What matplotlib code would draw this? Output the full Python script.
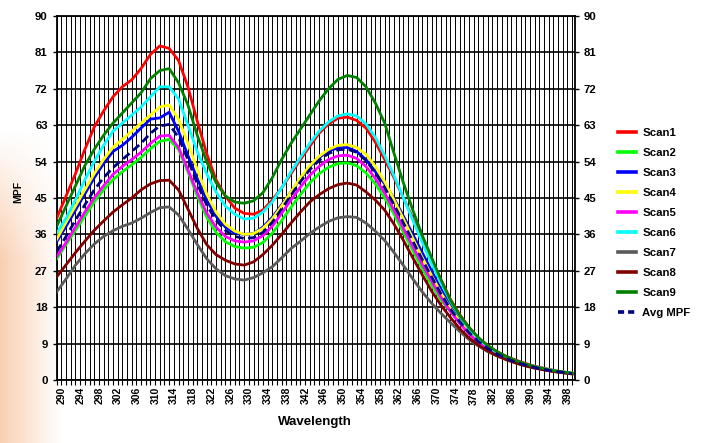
import numpy as np
import matplotlib
matplotlib.use("Agg")
import matplotlib.pyplot as plt
import matplotlib.transforms as mtransforms
from matplotlib.lines import Line2D

# Wavelength grid (nm), sampled every 2 nm
wavelength = list(range(290, 401, 2))

scan1 = [40.0, 45.5, 51.0, 57.0, 62.5, 66.5, 70.0, 72.5, 74.2, 77.0, 80.5, 82.6, 82.0, 79.0,
         72.5, 64.0, 56.0, 49.5, 45.5, 42.5, 41.2, 41.0, 42.0, 44.5, 47.5, 51.0, 54.5, 57.8,
         61.0, 63.3, 64.7, 65.0, 64.2, 62.3, 58.8, 54.5, 50.0, 45.0, 40.0, 34.8, 29.8, 24.8,
         20.0, 16.2, 13.0, 10.3, 8.5, 7.0, 5.8, 4.9, 4.1, 3.4, 2.9, 2.4, 2.0, 1.7]
scan2 = [30.0, 33.5, 37.0, 40.5, 44.0, 47.0, 49.5, 51.5, 53.2, 55.0, 57.2, 59.0, 59.5, 57.0,
         51.5, 45.5, 40.3, 36.5, 34.2, 33.0, 32.6, 32.8, 34.0, 36.3, 39.4, 42.7, 45.8, 48.7,
         51.0, 52.6, 53.5, 53.7, 53.0, 51.2, 48.5, 45.0, 41.0, 36.5, 32.0, 27.5, 23.5, 19.8,
         17.0, 14.2, 11.8, 9.7, 8.0, 6.6, 5.5, 4.6, 3.8, 3.2, 2.7, 2.3, 1.9, 1.6]
scan3 = [34.2, 38.0, 42.0, 46.0, 50.0, 53.5, 56.5, 58.0, 60.0, 62.3, 64.5, 64.8, 66.2, 61.5,
         55.5, 49.8, 44.5, 40.5, 37.8, 36.4, 36.0, 36.2, 37.8, 40.2, 43.3, 46.5, 49.8, 52.8,
         55.0, 56.6, 57.4, 57.5, 56.5, 54.5, 51.5, 48.5, 44.8, 40.5, 36.0, 31.5, 27.0, 22.5,
         18.8, 15.2, 12.3, 10.0, 8.2, 6.7, 5.5, 4.6, 3.8, 3.2, 2.7, 2.3, 1.9, 1.6]
scan4 = [34.8, 39.0, 43.0, 47.0, 51.0, 54.5, 57.5, 59.5, 61.5, 63.5, 65.5, 67.5, 68.0, 64.5,
         58.5, 52.0, 46.0, 41.5, 38.5, 36.8, 36.0, 36.2, 37.5, 39.8, 43.0, 46.5, 50.0, 53.0,
         55.3, 57.0, 58.0, 58.2, 57.5, 55.8, 52.8, 49.0, 44.5, 39.8, 35.0, 30.3, 25.8, 21.5,
         17.8, 14.5, 11.8, 9.6, 7.9, 6.5, 5.4, 4.5, 3.8, 3.2, 2.7, 2.3, 2.0, 1.7]
scan5 = [30.5, 34.0, 37.8, 41.5, 45.0, 48.0, 50.8, 52.8, 54.5, 56.3, 58.5, 60.3, 60.5, 57.5,
         52.0, 46.3, 41.3, 37.8, 35.5, 34.4, 34.1, 34.4, 35.7, 38.0, 41.2, 44.5, 47.7, 50.6,
         52.8, 54.5, 55.4, 55.6, 54.8, 52.8, 49.8, 46.2, 42.0, 37.5, 33.0, 28.6, 24.5, 20.5,
         17.0, 14.0, 11.4, 9.3, 7.6, 6.3, 5.2, 4.3, 3.6, 3.0, 2.6, 2.2, 1.9, 1.6]
scan6 = [36.3, 40.0, 44.5, 49.5, 54.0, 58.0, 61.5, 63.5, 65.5, 67.5, 70.0, 72.5, 72.5, 69.5,
         63.0, 56.5, 51.0, 46.5, 43.0, 41.0, 39.8, 40.0, 41.5, 44.0, 47.5, 51.5, 55.0, 58.5,
         61.5, 63.8, 65.3, 65.8, 65.3, 63.3, 60.0, 55.5, 50.5, 45.0, 39.5, 34.0, 28.8, 24.0,
         19.5, 15.8, 12.7, 10.2, 8.3, 6.8, 5.6, 4.7, 3.9, 3.3, 2.8, 2.3, 2.0, 1.7]
scan7 = [21.8, 25.0, 28.4, 31.2, 33.6, 35.5, 36.9, 38.0, 38.8, 40.0, 41.4, 42.6, 42.8, 40.8,
         37.3, 33.5, 30.0, 27.5, 25.8, 25.0, 24.7, 25.3, 26.5, 28.0, 30.2, 32.5, 34.3, 36.2,
         37.8, 39.2, 40.1, 40.4, 40.2, 38.8, 36.8, 34.5, 31.5, 28.3, 25.0, 21.8, 19.0, 16.5,
         14.2, 12.0, 10.0, 8.4, 7.0, 5.9, 5.0, 4.2, 3.5, 2.9, 2.5, 2.1, 1.8, 1.5]
scan8 = [25.5, 28.5, 31.5, 34.3, 37.0, 39.3, 41.5, 43.3, 45.0, 47.0, 48.5, 49.3, 49.4, 47.0,
         42.3, 37.5, 33.5, 31.0, 29.6, 28.7, 28.4, 29.2, 31.0, 33.3, 36.0, 38.8, 41.5, 44.0,
         45.8, 47.3, 48.3, 48.7, 48.2, 46.5, 44.5, 42.0, 38.5, 34.5, 30.2, 26.0, 22.0, 18.5,
         15.5, 12.7, 10.4, 8.6, 7.2, 6.0, 5.0, 4.2, 3.5, 3.0, 2.5, 2.1, 1.8, 1.5]
scan9 = [38.0, 43.0, 48.0, 53.0, 57.0, 60.5, 63.5, 66.0, 68.5, 71.0, 74.5, 76.5, 77.0, 73.5,
         68.0, 60.5, 54.0, 48.8, 45.5, 44.0, 43.7, 44.3, 46.3, 50.0, 54.5, 58.5, 62.0, 65.5,
         69.0, 72.0, 74.3, 75.3, 74.8, 72.5, 68.5, 63.5, 56.0, 48.7, 42.0, 35.8, 30.3, 24.8,
         19.8, 16.0, 13.0, 10.5, 8.5, 7.0, 5.8, 4.8, 4.0, 3.3, 2.8, 2.3, 2.0, 1.7]
avg_mpf = [31.7, 35.5, 39.5, 43.3, 47.0, 50.0, 52.5, 54.5, 56.5, 58.5, 61.0, 62.8, 63.2, 60.0,
           54.5, 48.5, 43.3, 39.5, 37.0, 35.5, 35.0, 35.2, 36.5, 39.0, 42.3, 45.7, 49.0, 52.0,
           54.3, 56.0, 56.9, 57.1, 56.3, 54.3, 51.2, 47.5, 43.3, 38.8, 34.3, 29.8, 25.5, 21.3,
           17.6, 14.4, 11.7, 9.5, 7.8, 6.4, 5.3, 4.4, 3.7, 3.1, 2.6, 2.2, 1.9, 1.6]

series_names = ["Scan1", "Scan2", "Scan3", "Scan4", "Scan5", "Scan6", "Scan7", "Scan8",
                "Scan9", "Avg MPF"]
series_values = [scan1, scan2, scan3, scan4, scan5, scan6, scan7, scan8, scan9, avg_mpf]
series_colors = ["#FF0000", "#00FF00", "#0000FF", "#FFFF00", "#FF00FF", "#00FFFF",
                 "#5A5A5A", "#800000", "#008000", "#000080"]

x_tick_values = list(range(290, 399, 4))
y_tick_values = [0, 9, 18, 27, 36, 45, 54, 63, 72, 81, 90]

FONT = "Liberation Sans"
W, H = 701, 443

fig = plt.figure(figsize=(W / 100, H / 100), dpi=100)
fig.patch.set_facecolor("white")

# soft peach backdrop at the left edge of the page
bg = fig.add_axes([0, 0, 1, 1], zorder=-5)
yy, xx = np.mgrid[0:H, 0:W]
fade_x = np.clip(1.0 - xx / 62.0, 0, 1) ** 1.1
fade_y = np.clip((yy - 130) / 130.0, 0, 1)
alpha = 0.5 * fade_x * fade_y
rgba = np.zeros((H, W, 4))
rgba[..., 0] = 0.96
rgba[..., 1] = 0.62
rgba[..., 2] = 0.38
rgba[..., 3] = alpha
bg.imshow(rgba, aspect="auto", interpolation="bilinear")
bg.axis("off")

left, right, top, bottom = 56.7, 574.5, 16.0, 380.0
ax = fig.add_axes([left / W, 1 - bottom / H, (right - left) / W, (bottom - top) / H])
ax.set_facecolor("white")

for name, vals, col in zip(series_names, series_values, series_colors):
    if name == "Avg MPF":
        ax.plot(wavelength, vals, color=col, lw=2.0, linestyle=(0, (3.0, 1.6)),
                label=name, zorder=4, solid_capstyle="butt")
    else:
        ax.plot(wavelength, vals, color=col, lw=2.0, label=name, zorder=3)

ax.set_xlim(290, 400.5)
ax.set_ylim(0, 90)

ax.set_xticks(x_tick_values)
ax.set_xticks(np.arange(290, 401), minor=True)
ax.set_xticklabels([str(v) for v in x_tick_values], rotation=90,
                   fontfamily=FONT, fontweight="bold", fontsize=7.5)
ax.set_yticks(y_tick_values)
ax.set_yticklabels([str(v) for v in y_tick_values], fontfamily=FONT,
                   fontweight="bold", fontsize=8.2)

ax.tick_params(axis="x", which="both", direction="out", length=3.6, width=0.8,
               pad=1.5, colors="black")
ax.tick_params(axis="y", which="both", direction="out", length=3.0, width=1.0,
               pad=3.5, right=True, labelright=True, colors="black")

offset = mtransforms.ScaledTranslation(5 / 100, 0, fig.dpi_scale_trans)
for lab in ax.get_xticklabels():
    lab.set_transform(lab.get_transform() + offset)

ax.grid(True, axis="x", which="both", color="black", lw=0.7, zorder=1)
ax.grid(True, axis="y", which="major", color="black", lw=1.2, zorder=1)
ax.set_axisbelow(True)
for sp in ax.spines.values():
    sp.set_linewidth(1.3)
    sp.set_color("black")

fig.text(314.8 / W, 1 - 421.7 / H, "Wavelength", ha="center", va="center",
         fontfamily=FONT, fontweight="bold", fontsize=9.5)
fig.text(18 / W, 1 - 192 / H, "MPF", ha="center", va="center", rotation=90,
         fontfamily=FONT, fontweight="bold", fontsize=7.5)

handles = []
for name, col in zip(series_names, series_colors):
    ls = (0, (1.7, 1.1)) if name == "Avg MPF" else "-"
    handles.append(Line2D([], [], color=col, lw=2.6, linestyle=ls))
fig.legend(handles, series_names, loc="upper left",
           bbox_to_anchor=(618 / W, 1 - 127.5 / H), bbox_transform=fig.transFigure,
           frameon=False, borderpad=0, borderaxespad=0, handlelength=1.55,
           handletextpad=0.6, labelspacing=0.88,
           prop={"family": FONT, "weight": "bold", "size": 8.2})

fig.savefig("out.png", dpi=100, facecolor="white")
